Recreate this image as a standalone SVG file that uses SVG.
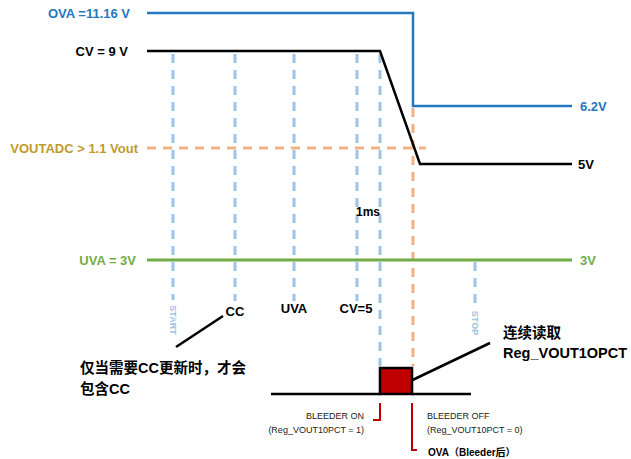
<svg xmlns="http://www.w3.org/2000/svg" width="631" height="459" viewBox="0 0 631 459">
<style>
text{font-family:"Liberation Sans","Noto Sans CJK SC",sans-serif;font-weight:bold;dominant-baseline:central}
.lbl{font-size:13px}
.cn{font-size:14.5px;fill:#000}
.sm{font-size:9px;font-weight:normal;fill:#222}
.vd{stroke:#9dc3e6;stroke-width:3;stroke-dasharray:9 7;fill:none}
.od{stroke:#f4b183;stroke-width:3;stroke-dasharray:9 7;fill:none}
.rot{font-size:9px;fill:#9dc3e6;font-weight:bold}
</style>
<rect width="631" height="459" fill="#fff"/>
<g id="connectors">
  <path class="od" d="M147 148 H426"/>
  <path class="od" d="M413 108 V366"/>
  <path class="vd" d="M173 54 V300"/>
  <path class="vd" d="M235 54 V301"/>
  <path class="vd" d="M294 54 V301"/>
  <path class="vd" d="M357 54 V301"/>
  <path class="vd" d="M380 54 V366"/>
  <path class="vd" d="M475 262 V306"/>
  <path d="M147 13 H413 V106 H572" fill="none" stroke="#2478c0" stroke-width="2.5"/>
  <path d="M147 51 H380 L420 164 H572" fill="none" stroke="#000" stroke-width="2.5"/>
  <path d="M147 260 H572" fill="none" stroke="#70ad47" stroke-width="3"/>
  <path d="M223 316 L176 347" stroke="#000" stroke-width="2.5"/>
  <path d="M402 385 L490 343" stroke="#000" stroke-width="2.5"/>
  <path d="M271 394 H380 M412 394 H471" stroke="#000" stroke-width="2.5"/>
  <path d="M380 403 V420 H373" fill="none" stroke="#c00000" stroke-width="2"/>
  <path d="M412 403 V450 H417" fill="none" stroke="#c00000" stroke-width="2"/>
</g>
<g id="ova"><text class="lbl" x="130" y="13" text-anchor="end" fill="#2478c0">OVA =11.16 V</text><text class="lbl" x="580" y="106" fill="#2478c0">6.2V</text></g>
<g id="cv"><text class="lbl" x="128" y="51" text-anchor="end" fill="#000">CV = 9 V</text><text class="lbl" x="578" y="164" fill="#000">5V</text></g>
<g id="voutadc"><text class="lbl" x="138" y="148" text-anchor="end" fill="#c09a2a">VOUTADC &gt; 1.1 Vout</text></g>
<g id="uva"><text class="lbl" x="136" y="260" text-anchor="end" fill="#70ad47">UVA = 3V</text><text class="lbl" x="580" y="260" fill="#70ad47">3V</text></g>
<g id="t1ms"><text x="368" y="212" text-anchor="middle" font-size="12" fill="#000">1ms</text></g>
<g id="start"><text class="rot" transform="translate(173 320) rotate(90)" text-anchor="middle">START</text></g>
<g id="stop"><text class="rot" transform="translate(475 323) rotate(90)" text-anchor="middle">STOP</text></g>
<g id="cc"><text class="lbl" x="235" y="311" text-anchor="middle" fill="#000">CC</text></g>
<g id="uvalbl"><text class="lbl" x="294" y="308" text-anchor="middle" fill="#000">UVA</text></g>
<g id="cv5"><text class="lbl" x="356" y="308" text-anchor="middle" fill="#000">CV=5</text></g>
<g id="note"><text class="cn" x="80" y="368">仅当需要CC更新时，才会</text><text class="cn" x="80" y="389">包含CC</text></g>
<g id="bleeder"><rect x="380" y="368" width="32" height="26" fill="#c00000" stroke="#000" stroke-width="2.5"/></g>
<g id="read"><text class="cn" x="503" y="333">连续读取</text><text class="cn" x="503" y="353">Reg_VOUT1OPCT</text></g>
<g id="bon"><text class="sm" x="364" y="416" text-anchor="end">BLEEDER ON</text><text class="sm" x="364" y="430" text-anchor="end">(Reg_VOUT10PCT = 1)</text></g>
<g id="boff"><text class="sm" x="427" y="416">BLEEDER OFF</text><text class="sm" x="427" y="430">(Reg_VOUT10PCT = 0)</text></g>
<g id="ovab"><text x="428" y="452" font-size="10" fill="#000">OVA（Bleeder后）</text></g>
</svg>
